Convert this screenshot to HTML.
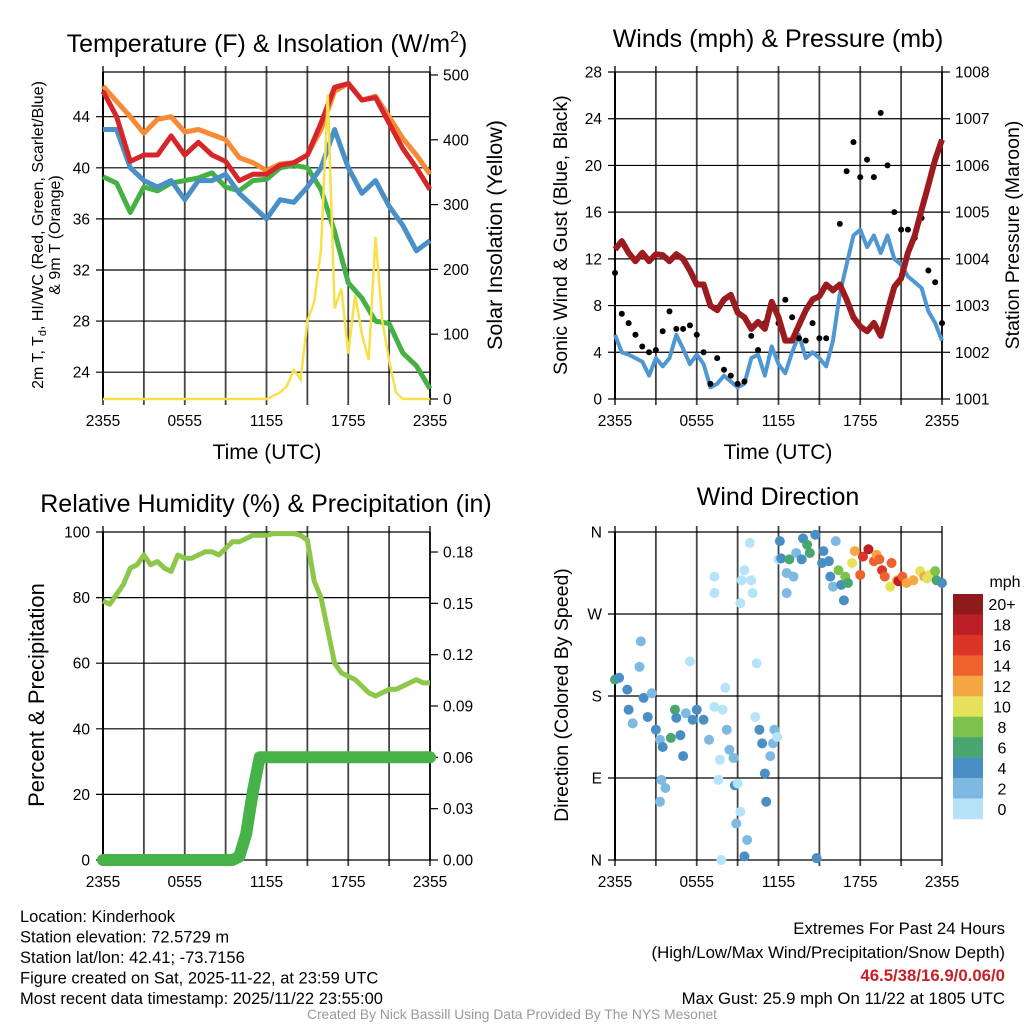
<!DOCTYPE html>
<html><head><meta charset="utf-8"><style>
body{margin:0;background:#fff}
svg{display:block;font-family:"Liberation Sans",Arial,sans-serif}
</style></head><body>
<svg id="root" width="1024" height="1024" viewBox="0 0 1024 1024"></svg>
<script>
// ---------- DATA ----------
const hours = [0,0.5,1,1.5,2,2.5,3,3.5,4,4.5,5,5.5,6,6.5,7,7.5,8,8.5,9,9.5,10,10.5,11,11.5,12,12.5,13,13.5,14,14.5,15,15.5,16,16.5,17,17.5,18,18.5,19,19.5,20,20.5,21,21.5,22,22.5,23,23.5,24];
const tempHours = [0,1,2,3,4,5,6,7,8,9,10,11,12,13,14,15,16,17,18,19,20,21,22,23,24];
const tempRed = [46,44,40.5,41,41,42.5,41,42,41,40.5,39,39.5,39.5,40.2,40.4,41,43.5,46.3,46.6,45.3,45.5,43.5,41.5,40,38.3];
const tempOrange = [46.4,45.2,44,42.7,43.8,44,42.8,43,42.6,42.2,40.8,40.4,39.8,40.3,40.4,41,43,46,46.6,45.3,45.6,44,42.3,41,39.5];
const tempBlue = [43,43,40,39,38.5,39,37.5,39,39,39.5,38,37,36,37.5,37.3,38.5,40,43,40,38,39,37,35.5,33.5,34.3];
const tempGreen = [39.3,38.8,36.5,38.5,38.2,38.8,39,39.2,39.6,38.5,38.2,39,39.1,40,40.2,40,38.3,35,31,29.8,28,27.8,25.5,24.5,22.7];
const solar = [0,0,0,0,0,0,0,0,0,0,0,0,0,0,0,0,0,0,0,0,0,0,0,0,0,5,10,20,45,30,120,150,230,470,140,170,70,160,100,60,250,120,60,10,0,0,0,0,0];
const windSpeed = [5.5,4,3.8,3.5,3.2,2,3.5,2.8,3.5,5.5,4.3,3,3.8,3,1,1.3,2,1.5,1,1.3,3.5,3.8,2,4.5,3,2.2,4,5.5,3.5,4,3.5,2.8,5,9,11.5,14,14.5,13,14,12.5,14,12,11.5,10.5,10,9.5,7.5,6.5,5];
const windGust = [10.8,7.3,6.5,5.5,4.5,4,4.2,5.8,7.5,6,6,6.3,5.5,4,1.3,3.5,2.5,2,1.3,1.5,5.4,4.2,6.5,7.8,6.5,8.5,7,5.2,5,6.5,5.2,5.2,9.3,15,19.5,22,19,20.5,19,24.5,20,16,14.5,14.5,13.8,15.5,11,10,6.5];
const pressure = [1004.2,1004.38,1004.13,1003.95,1004.13,1003.95,1004.1,1004.08,1003.95,1004.1,1004,1003.75,1003.45,1003.45,1003,1002.9,1003.13,1003.23,1002.85,1002.75,1002.5,1002.65,1002.5,1003.08,1002.75,1002.25,1002.25,1002.58,1002.9,1003.13,1003.2,1003.45,1003.33,1003.45,1003.13,1002.75,1002.55,1002.45,1002.63,1002.35,1002.88,1003.4,1003.58,1004.13,1004.5,1005.05,1005.58,1006.13,1006.55];
const rh = [79,78,81,84,89,90,93,90,91,89,88,93,92,92,93,94,94,93,95,97,97,98,99,99,99,99.5,99.5,99.5,99.5,99,97.5,85,80,70,60,57,56,55,53,51,50,51,52,52,53,54,55,54,54];
const precip = [0,0,0,0,0,0,0,0,0,0,0,0,0,0,0,0,0,0,0,0,0.002,0.015,0.04,0.06,0.06,0.06,0.06,0.06,0.06,0.06,0.06,0.06,0.06,0.06,0.06,0.06,0.06,0.06,0.06,0.06,0.06,0.06,0.06,0.06,0.06,0.06,0.06,0.06,0.06];
const dirHours = [0,0.3,0.9,1.0,1.3,1.8,1.9,2.1,2.4,2.7,3.0,3.3,3.4,3.3,3.7,3.5,4.1,4.4,4.5,4.8,5.0,5.2,5.5,5.7,6.0,6.5,6.9,7.3,7.3,7.3,7.6,7.7,7.8,7.9,8.1,8.2,8.4,8.7,8.8,9.0,9.2,9.3,9.5,9.2,8.9,9.7,9.5,9.9,10.0,10.1,10.4,10.3,10.6,10.8,11.0,11.1,11.4,11.6,11.7,11.9,12.0,12.1,12.2,12.6,12.6,12.8,13.1,13.3,13.8,14.1,14.3,13.7,14.7,14.8,15.2,15.3,15.7,15.8,16.2,16.0,16.4,16.6,16.8,16.9,17.1,17.4,17.6,18.0,18.2,18.6,19.0,19.2,19.4,19.6,19.8,20.3,20.2,20.7,20.8,21.1,21.4,21.9,22.4,22.7,22.9,23.1,23.5,23.6,24.0];
const dirDeg = [198,200,187,165,150,212,240,178,157,183,143,132,88,64,79,124,134,165,156,137,114,161,218,154,165,154,132,311,293,168,88,110,0,165,189,143,121,112,82,84,282,307,318,53,40,22,4,348,307,293,216,157,143,128,95,64,114,128,143,135,330,350,331,315,293,330,311,337,353,346,337,330,357,2,326,339,328,311,350,300,318,302,285,311,304,326,339,313,333,341,328,335,330,318,311,326,300,307,306,311,304,307,317,311,309,313,317,307,304];
const dirSpeed = [6,4,4,4,2,2,2,4,4,2,4,2,2,2,2,4,6,6,4,4,4,2,0,4,4,4,2,0,0,0,0,0,0,0,0,2,2,2,4,0,0,0,0,0,2,2,4,0,0,0,0,0,4,4,4,4,2,2,2,0,0,4,4,2,2,6,2,2,4,6,6,4,4,4,4,4,4,4,2,2,8,4,4,8,6,10,12,14,16,18,14,12,14,16,14,14,10,12,18,14,12,12,10,12,10,10,8,6,4];
const binLabels = ["20+","18","16","14","12","10","8","6","4","2","0"];
const binColors = ["#8e1a1c","#bd1f27","#dc3528","#ef622d","#f6a744","#e6e05b","#7dc24b","#4aa66f","#4a8fc4","#7eb9e3","#b7e3f8"];
const xTickHours = [0,6,12,18,24];
const xTickLabels = ["2355","0555","1155","1755","2355"];

// ---------- HELPERS ----------
const NS = "http://www.w3.org/2000/svg";
const root = document.getElementById('root');
function el(tag, attrs, parent, txt){
  const e = document.createElementNS(NS, tag);
  for (const k in attrs) e.setAttribute(k, attrs[k]);
  if (txt !== undefined) e.textContent = txt;
  (parent || root).appendChild(e);
  return e;
}
function lin(d0,d1,r0,r1){ return v => r0 + (v-d0)/(d1-d0)*(r1-r0); }
function pathFrom(xs, ys, fx, fy){
  let d = "";
  for (let i=0;i<xs.length;i++) d += (i?"L":"M") + fx(xs[i]).toFixed(1) + "," + fy(ys[i]).toFixed(1);
  return d;
}

function frame(g, x0, x1, y0, y1, name){
  for (let h=0; h<=24; h+=3){
    const x = x0 + h/24*(x1-x0);
    const l = el('line',{x1:x,x2:x,y1:y0-6,y2:y1+6,stroke:'#444',"stroke-width":1.8},g);
    
    
  }
  xTickHours.forEach((h,i)=>{
    const x = x0 + h/24*(x1-x0);
    const t = el('text',{x:x,y:y1+27,"font-size":15.5,"text-anchor":"middle",fill:'#000'},g,xTickLabels[i]);
    
    
  });
  const b = el('line',{x1:x0,x2:x0,y1:y0,y2:y1,stroke:'#000',"stroke-width":2},g);
  
  
}
function yTicks(g, x0, x1, values, labels, fy, name, side){
  values.forEach((v,i)=>{
    const y = fy(v);
    if (side==='left'){
      const l = el('line',{x1:x0-7,x2:x1,y1:y,y2:y,stroke:'#000',"stroke-width":1.2},g);
      
      
      const t = el('text',{x:x0-13,y:y+5.5,"font-size":15.5,"text-anchor":"end"},g,labels[i]);
      
      
    } else {
      const l = el('line',{x1:x1,x2:x1+8,y1:y,y2:y,stroke:'#000',"stroke-width":1.2},g);
      
      
      const t = el('text',{x:x1+13,y:y+5.5,"font-size":15.5,"text-anchor":"start"},g,labels[i]);
      
      
    }
  });
}
function rightAxis(g,x1,y0,y1,name){
  const b = el('line',{x1:x1,x2:x1,y1:y0,y2:y1,stroke:'#000',"stroke-width":1.5},g);
  
  
}
function label(x,y,txt,size,rot,name,extra){
  const a = {x:x,y:y,"font-size":size,"text-anchor":"middle"};
  if (rot) a.transform = `rotate(-90 ${x} ${y})`;
  if (extra) for (const k in extra) a[k]=extra[k];
  const t = el('text',a,root,txt);
  
  
  return t;
}

// ---------- PANEL 1: Temperature ----------
(function(){
  const x0=103,x1=430,y0=72,y1=399;
  const g = el('g',{});
  
  
  const fx = lin(0,24,x0,x1), fy = lin(21.9,47.5,y1,y0), fs = lin(0,504.6,y1,y0);
  frame(g,x0,x1,y0,y1,'temp');
  yTicks(g,x0,x1,[24,28,32,36,40,44],["24","28","32","36","40","44"],fy,'temp','left');
  rightAxis(g,x1,y0,y1,'temp');
  yTicks(g,x0,x1,[0,100,200,300,400,500],["0","100","200","300","400","500"],fs,'solar','right');
  const top = el('line',{x1:x0,x2:x1,y1:y0,y2:y0,stroke:'#000',"stroke-width":1.2},g);
  
  
  const series = [[tempGreen,'#45b044','dewpoint-line'],[tempBlue,'#4a90c8','wind-chill-line'],[tempOrange,'#f68a35','temp-9m-line'],[tempRed,'#d7262a','temp-2m-line']];
  series.forEach(s=>{
    const p = el('path',{d:pathFrom(tempHours,s[0],fx,fy),fill:'none',stroke:s[1],"stroke-width":5,"stroke-linejoin":'round'},g);
    
    
  });
  const sp = el('path',{d:pathFrom(hours,solar,fx,fs),fill:'none',stroke:'#f7e04a',"stroke-width":2.5},g);
  
  
})();
const t1 = label(267,52,"Temperature (F) & Insolation (W/m",25,false,'temperature-title');
const sup = el('tspan',{dy:-10,"font-size":16},t1,"2");


const cl = el('tspan',{dy:10},t1,")");


const yl1 = label(43,235,"",16,true,'temp-y-title');
yl1.textContent = "2m T, T";
const sub = el('tspan',{"font-size":11,dy:3},yl1,"d");


const rest = el('tspan',{dy:-3},yl1,", HI/WC (Red, Green, Scarlet/Blue)");


label(60,235,"& 9m T (Orange)",16,true,'temp-y-title-line2');
label(502,235,"Solar Insolation (Yellow)",21.5,true,'solar-y-title');
label(267,459,"Time (UTC)",21,false,'temp-x-title');

// ---------- PANEL 2: Winds ----------
(function(){
  const x0=615,x1=942,y0=72,y1=399;
  const g = el('g',{});
  
  
  const fx = lin(0,24,x0,x1), fy = lin(0,28,y1,y0), fp = lin(1001,1008,y1,y0);
  frame(g,x0,x1,y0,y1,'wind');
  yTicks(g,x0,x1,[0,4,8,12,16,20,24,28],["0","4","8","12","16","20","24","28"],fy,'wind','left');
  rightAxis(g,x1,y0,y1,'wind');
  yTicks(g,x0,x1,[1001,1002,1003,1004,1005,1006,1007,1008],["1001","1002","1003","1004","1005","1006","1007","1008"],fp,'pressure','right');
  const wp = el('path',{d:pathFrom(hours,windSpeed,fx,fy),fill:'none',stroke:'#4f97d2',"stroke-width":4,"stroke-linejoin":'round'},g);
  
  
  hours.forEach((h,i)=>{
    const c = el('circle',{cx:fx(h),cy:fy(windGust[i]),r:3,fill:'#000'},g);
    
    
  });
  const pp = el('path',{d:pathFrom(hours,pressure,fx,fp),fill:'none',stroke:'#9b1b1e',"stroke-width":6,"stroke-linejoin":'round'},g);
  
  
})();
label(778,47,"Winds (mph) & Pressure (mb)",25,false,'winds-title');
label(567,235,"Sonic Wind & Gust (Blue, Black)",19.5,true,'wind-y-title');
label(1019,235,"Station Pressure (Maroon)",19.5,true,'pressure-y-title');
label(778,459,"Time (UTC)",21,false,'wind-x-title');

// ---------- PANEL 3: RH ----------
(function(){
  const x0=103,x1=430,y0=532,y1=860;
  const g = el('g',{});
  
  
  const fx = lin(0,24,x0,x1), fy = lin(0,100,y1,y0), fr = lin(0,0.1917,y1,y0);
  frame(g,x0,x1,y0,y1,'rh');
  yTicks(g,x0,x1,[0,20,40,60,80,100],["0","20","40","60","80","100"],fy,'rh','left');
  rightAxis(g,x1,y0,y1,'rh');
  yTicks(g,x0,x1,[0,0.03,0.06,0.09,0.12,0.15,0.18],["0.00","0.03","0.06","0.09","0.12","0.15","0.18"],fr,'precip','right');
  const rp = el('path',{d:pathFrom(hours,rh,fx,fy),fill:'none',stroke:'#8dc74a',"stroke-width":5,"stroke-linejoin":'round'},g);
  
  
  const pp = el('path',{d:pathFrom(hours,precip,fx,fr),fill:'none',stroke:'#46b248',"stroke-width":12,"stroke-linejoin":'round',"stroke-linecap":'round'},g);
  
  
})();
label(266,512,"Relative Humidity (%) & Precipitation (in)",25,false,'humidity-title');
label(44,695,"Percent & Precipitation",22,true,'rh-y-title');

// ---------- PANEL 4: Wind direction ----------
(function(){
  const x0=615,x1=942,y0=532,y1=860;
  const g = el('g',{});
  
  
  const fx = lin(0,24,x0,x1), fy = lin(0,360,y1,y0);
  frame(g,x0,x1,y0,y1,'dir');
  yTicks(g,x0,x1,[0,90,180,270,360],["N","E","S","W","N"],fy,'dir','left');
  dirHours.forEach((h,i)=>{
    const bin = Math.min(10, Math.floor(dirSpeed[i]/2));
    const c = el('circle',{cx:fx(h),cy:fy(dirDeg[i]),r:5,fill:binColors[10-bin]},g);
    
    
  });
  const lg = el('g',{},root);
  
  
  const bh = 225/11;
  binLabels.forEach((lab,i)=>{
    const r = el('rect',{x:953,y:594+i*bh,width:30,height:bh+0.3,fill:binColors[i]},lg);
    
    
    const t = el('text',{x:1002,y:594+i*bh+bh/2+6,"font-size":16,"text-anchor":"middle"},lg,lab);
    
    
  });
})();
label(778,505,"Wind Direction",25,false,'wind-direction-title');
label(1005,587,"mph",16,false,'colorbar-unit');
label(568,695,"Direction (Colored By Speed)",19.5,true,'dir-y-title');

// ---------- FOOTER TEXT ----------
const info = ["Location: Kinderhook","Station elevation: 72.5729 m","Station lat/lon: 42.41; -73.7156","Figure created on Sat, 2025-11-22, at 23:59 UTC","Most recent data timestamp: 2025/11/22 23:55:00"];
info.forEach((s,i)=>{
  const t = el('text',{x:20,y:922+i*20.5,"font-size":16.5},root,s);
  
  
});
const ex = [["Extremes For Past 24 Hours",934,'#000','normal'],["(High/Low/Max Wind/Precipitation/Snow Depth)",958,'#000','normal'],["46.5/38/16.9/0.06/0",981,'#c8202a','bold'],["Max Gust: 25.9 mph On 11/22 at 1805 UTC",1004,'#000','normal']];
ex.forEach(e=>{
  const t = el('text',{x:1005,y:e[1],"font-size":16.8,"text-anchor":"end",fill:e[2],"font-weight":e[3]},root,e[0]);
  
  
});
label(512,1019,"Created By Nick Bassill Using Data Provided By The NYS Mesonet",13.8,false,'credit-footer',{fill:'#999'});
</script>
</body></html>
